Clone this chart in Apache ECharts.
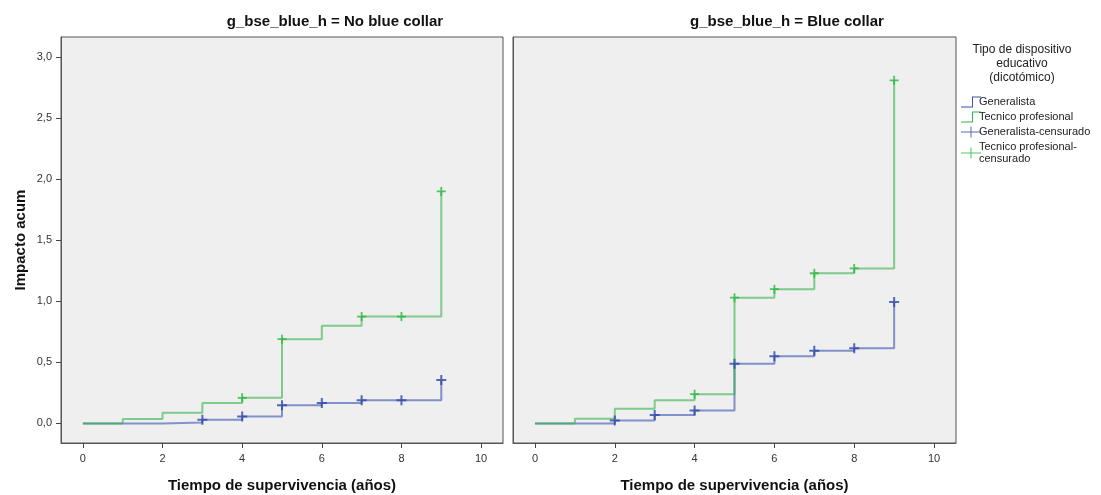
<!DOCTYPE html>
<html>
<head>
<meta charset="utf-8">
<script src="https://cdn.jsdelivr.net/npm/echarts@6/dist/echarts.min.js"></script>
<style>
  html, body { margin: 0; padding: 0; background: #fff; }
  #chart { width: 1101px; height: 495px; }
</style>
</head>
<body>
<div id="chart"></div>
<script>
// event times (years)
const times = [0, 1, 2, 3, 4, 5, 6, 7, 8, 9]

// cumulative hazard, panel "No blue collar"
const noBlueGeneralista = [0, 0, 0.008, 0.03, 0.057, 0.15, 0.167, 0.19, 0.19, 0.355]
const noBlueTecnico = [0, 0.036, 0.088, 0.167, 0.21, 0.69, 0.80, 0.875, 0.875, 1.90]
// cumulative hazard, panel "Blue collar"
const blueGeneralista = [0, 0, 0.025, 0.07, 0.107, 0.49, 0.55, 0.595, 0.615, 0.995]
const blueTecnico = [0, 0.038, 0.12, 0.19, 0.24, 1.03, 1.10, 1.23, 1.27, 2.81]

// times where censored cases are marked
const noBlueGenCensored = [3, 4, 5, 6, 7, 8, 9]
const noBlueTecCensored = [4, 5, 7, 8, 9]
const blueGenCensored = [2, 3, 4, 5, 6, 7, 8, 9]
const blueTecCensored = [4, 5, 6, 7, 8, 9]

const xTicks = [0, 2, 4, 6, 8, 10]
const yTicks = [0, 0.5, 1, 1.5, 2, 2.5, 3]

const panelTitles = ['g_bse_blue_h = No blue collar', 'g_bse_blue_h = Blue collar']
const seriesNames = ['Generalista', 'Tecnico profesional', 'Generalista-censurado', 'Tecnico profesional-censurado']
const legendTitle = 'Tipo de dispositivo\neducativo\n(dicotómico)'
const xName = 'Tiempo de supervivencia (años)'
const yName = 'Impacto acum'

const BLUE = '#3a52b0'
const GREEN = '#33b348'
const BLUE_MARK = '#2c46a6'
const GREEN_MARK = '#27b53c'
const FONT = 'Liberation Sans, Arial, sans-serif'

const plus = 'path://M4,0 H6 V4 H10 V6 H6 V10 H4 V6 H0 V4 H4 Z'
const stepIcon = 'path://M0,10 H11 V0 H20 V1 H12 V11 H0 Z'
const censIcon = 'path://M0,5 H20 V6 H0 Z M9.5,0 H10.5 V11 H9.5 Z'

const pairs = (ys) => times.map((t, i) => [t, ys[i]])
const marks = (ts, ys) => ts.map(t => [t, ys[times.indexOf(t)]])

const grids = [
  { left: 61, top: 37, width: 442, height: 406 },
  { left: 513, top: 37, width: 443, height: 406 }
]

const makeX = (idx) => ({
  type: 'value', gridIndex: idx, min: -0.55, max: 10.55,
  name: xName, nameLocation: 'middle', nameGap: 35,
  nameTextStyle: { fontFamily: FONT, fontWeight: 'bold', fontSize: 15, color: '#111' },
  axisLine: { show: true, onZero: false, lineStyle: { color: '#555' } },
  axisTick: { show: true, length: 5, customValues: xTicks, lineStyle: { color: '#444' } },
  axisLabel: { customValues: xTicks, fontFamily: FONT, fontSize: 11, color: '#333', margin: 10 },
  splitLine: { show: false }
})

const makeY = (idx, labels) => ({
  type: 'value', gridIndex: idx, min: -0.16, max: 3.165,
  name: labels ? yName : '', nameLocation: 'middle', nameGap: 33,
  nameTextStyle: { fontFamily: FONT, fontWeight: 'bold', fontSize: 15, color: '#111' },
  axisLine: { show: true, onZero: false, lineStyle: { color: '#555' } },
  axisTick: { show: labels, length: 5, customValues: yTicks, lineStyle: { color: '#444' } },
  axisLabel: {
    show: labels, customValues: yTicks, fontFamily: FONT, fontSize: 11, color: '#333', margin: 9,
    formatter: v => v.toFixed(1).replace('.', ',')
  },
  splitLine: { show: false }
})

const stepLine = (name, idx, ys, color) => ({
  name, type: 'line', xAxisIndex: idx, yAxisIndex: idx, step: 'end',
  data: pairs(ys), showSymbol: false, color,
  lineStyle: { color, width: 2, opacity: 0.6 },
  emphasis: { disabled: true }, z: 2
})

const censMarks = (name, idx, ts, ys, color, size) => ({
  name, type: 'scatter', xAxisIndex: idx, yAxisIndex: idx,
  data: marks(ts, ys), symbol: plus, symbolSize: size, color,
  itemStyle: { color }, emphasis: { disabled: true }, z: 3
})

const chart = echarts.init(document.getElementById('chart'))
chart.setOption({
  animation: false,
  backgroundColor: '#fff',
  grid: grids.map(g => Object.assign({
    show: true, backgroundColor: '#efefef', borderColor: '#555', borderWidth: 1,
    containLabel: false, outerBoundsMode: 'none'
  }, g)),
  xAxis: [makeX(0), makeX(1)],
  yAxis: [makeY(0, true), makeY(1, false)],
  legend: {
    orient: 'vertical', left: 956, top: 91, itemWidth: 20, itemHeight: 11, itemGap: 3,
    textStyle: { fontFamily: FONT, fontSize: 11, color: '#222', padding: [0, 0, 0, -7], lineHeight: 12 },
    formatter: n => n === seriesNames[3] ? 'Tecnico profesional-\ncensurado' : n,
    data: [
      { name: seriesNames[0], icon: stepIcon },
      { name: seriesNames[1], icon: stepIcon },
      { name: seriesNames[2], icon: censIcon },
      { name: seriesNames[3], icon: censIcon }
    ]
  },
  graphic: [
    { type: 'text', x: 335, y: 22, style: { text: panelTitles[0], align: 'center', verticalAlign: 'middle', font: 'bold 15px ' + FONT, fill: '#111' } },
    { type: 'text', x: 787, y: 22, style: { text: panelTitles[1], align: 'center', verticalAlign: 'middle', font: 'bold 15px ' + FONT, fill: '#111' } },
    { type: 'text', x: 1022, y: 64, style: { text: legendTitle, align: 'center', verticalAlign: 'middle', font: '12px ' + FONT, fill: '#222', lineHeight: 14 } }
  ],
  series: [
    stepLine(seriesNames[0], 0, noBlueGeneralista, BLUE),
    stepLine(seriesNames[1], 0, noBlueTecnico, GREEN),
    stepLine(seriesNames[0], 1, blueGeneralista, BLUE),
    stepLine(seriesNames[1], 1, blueTecnico, GREEN),
    censMarks(seriesNames[2], 0, noBlueGenCensored, noBlueGeneralista, BLUE_MARK, 10),
    censMarks(seriesNames[3], 0, noBlueTecCensored, noBlueTecnico, GREEN_MARK, 9),
    censMarks(seriesNames[2], 1, blueGenCensored, blueGeneralista, BLUE_MARK, 10),
    censMarks(seriesNames[3], 1, blueTecCensored, blueTecnico, GREEN_MARK, 9)
  ]
})
</script>
</body>
</html>
